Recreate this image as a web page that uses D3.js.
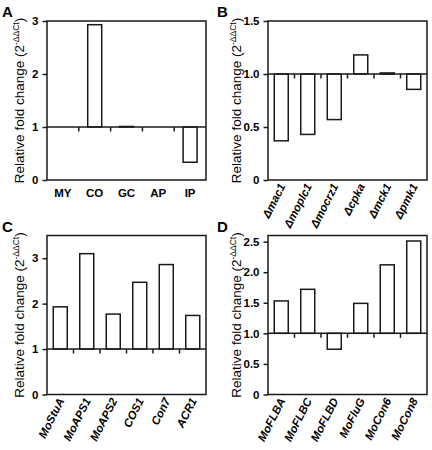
<!DOCTYPE html>
<html>
<head>
<meta charset="utf-8">
<script src="https://cdn.jsdelivr.net/npm/d3@7"></script>
<style>
  html, body { margin: 0; padding: 0; background: #fff; }
  svg { display: block; }
  text { font-family: "Liberation Sans", Arial, sans-serif; fill: #000; }
</style>
</head>
<body>
<svg id="chart" width="432" height="450"></svg>
<script>
// ---- data ----
const catsA = ["MY", "CO", "GC", "AP", "IP"];
const valsA = [1, 2.93, 1.01, 1, 0.335];
const ticksA = [0, 1, 2, 3];
const tickLabelsA = ["0", "1", "2", "3"];

const catsB = ["Δmac1", "Δmoplc1", "Δmocrz1", "Δcpka", "Δmck1", "Δpmk1"];
const valsB = [0.37, 0.43, 0.57, 1.18, 1.01, 0.855];
const ticksB = [0, 0.5, 1.0, 1.5];
const tickLabelsB = ["0", "0.5", "1.0", "1.5"];

const catsC = ["MoStuA", "MoAPS1", "MoAPS2", "COS1", "Con7", "ACR1"];
const valsC = [1.93, 3.10, 1.77, 2.47, 2.86, 1.74];
const ticksC = [0, 1, 2, 3];
const tickLabelsC = ["0", "1", "2", "3"];

const catsD = ["MoFLBA", "MoFLBC", "MoFLBD", "MoFluG", "MoCon6", "MoCon8"];
const valsD = [1.53, 1.72, 0.74, 1.49, 2.12, 2.51];
const ticksD = [0, 0.5, 1.0, 1.5, 2.0, 2.5];
const tickLabelsD = ["0", "0.5", "1.0", "1.5", "2.0", "2.5"];

const panelLetters = ["A", "B", "C", "D"];
const baselineValue = 1;

// ---- drawing ----
const svg = d3.select("#chart");
const stroke = "#1a1a1a";

function panel(cfg) {
  const g = svg.append("g");
  const x = d3.scaleBand().domain(cfg.cats).range([cfg.left, cfg.right]).padding(0);
  const y = d3.scaleLinear().domain(cfg.domain).range([cfg.bottom, cfg.top]);
  const barW = 14;

  // bars
  g.selectAll("rect.bar").data(cfg.cats.map((c, i) => ({c, v: cfg.vals[i]})))
    .enter().append("rect")
    .attr("x", d => x(d.c) + x.bandwidth() / 2 - barW / 2)
    .attr("width", barW)
    .attr("y", d => y(Math.max(d.v, baselineValue)))
    .attr("height", d => Math.abs(y(d.v) - y(baselineValue)))
    .attr("fill", "#fff")
    .attr("stroke", stroke)
    .attr("stroke-width", 1.5)
    .style("display", d => d.v === baselineValue ? "none" : null);

  // frame
  g.append("rect")
    .attr("x", cfg.left).attr("y", cfg.top)
    .attr("width", cfg.right - cfg.left).attr("height", cfg.bottom - cfg.top)
    .attr("fill", "none").attr("stroke", stroke).attr("stroke-width", 1.5);

  // baseline at 1
  g.append("line")
    .attr("x1", cfg.left).attr("x2", cfg.right)
    .attr("y1", y(baselineValue)).attr("y2", y(baselineValue))
    .attr("stroke", stroke).attr("stroke-width", 1.5);

  // ticks between categories on the baseline
  cfg.cats.slice(1).forEach(c => {
    g.append("line")
      .attr("x1", x(c)).attr("x2", x(c))
      .attr("y1", y(baselineValue)).attr("y2", y(baselineValue) + 4.5)
      .attr("stroke", stroke).attr("stroke-width", 1.5);
  });

  // y axis
  const yAxis = d3.axisLeft(y).tickValues(cfg.ticks)
    .tickFormat((d, i) => cfg.tickLabels[i]).tickSize(4.5).tickPadding(4);
  const ax = g.append("g").attr("transform", `translate(${cfg.left},0)`).call(yAxis);
  ax.select(".domain").remove();
  ax.selectAll(".tick line").attr("stroke", stroke).attr("stroke-width", 1.5);
  ax.selectAll(".tick text")
    .attr("font-family", "'Liberation Sans', Arial, sans-serif")
    .attr("font-size", 11.5).attr("font-weight", "bold").attr("fill", "#000");

  // y title
  const cy = (cfg.top + cfg.bottom) / 2;
  const t = g.append("text")
    .attr("transform", `translate(${cfg.titleX},${cy}) rotate(-90)`)
    .attr("text-anchor", "middle")
    .attr("font-size", 13.5);
  t.append("tspan").text("Relative fold change (2");
  t.append("tspan").attr("font-size", 8.5).attr("dy", -5.5).text("-ΔΔCt");
  t.append("tspan").attr("dy", 5.5).text(")");

  // x labels
  if (cfg.rotate) {
    cfg.cats.forEach(c => {
      g.append("text")
        .attr("transform", `translate(${x(c) + x.bandwidth() / 2 + 4.5},${cfg.bottom + 6}) rotate(-63)`)
        .attr("text-anchor", "end")
        .attr("font-size", 11.5).attr("font-weight", "bold").attr("font-style", "italic")
        .text(c);
    });
  } else {
    cfg.cats.forEach(c => {
      g.append("text")
        .attr("x", x(c) + x.bandwidth() / 2).attr("y", cfg.bottom + 16.5)
        .attr("text-anchor", "middle")
        .attr("font-size", 11.5).attr("font-weight", "bold")
        .text(c);
    });
  }

  // panel letter
  g.append("text")
    .attr("x", cfg.letterX).attr("y", cfg.letterY)
    .attr("font-size", 15).attr("font-weight", "bold")
    .text(cfg.letter);
}

panel({cats: catsA, vals: valsA, ticks: ticksA, tickLabels: tickLabelsA, domain: [0, 3],
  left: 47, right: 206, top: 21, bottom: 180, titleX: 24, rotate: false,
  letter: panelLetters[0], letterX: 2, letterY: 16.5});
panel({cats: catsB, vals: valsB, ticks: ticksB, tickLabels: tickLabelsB, domain: [0, 1.5],
  left: 268, right: 427, top: 21, bottom: 180, titleX: 241, rotate: true,
  letter: panelLetters[1], letterX: 217, letterY: 16.5});
panel({cats: catsC, vals: valsC, ticks: ticksC, tickLabels: tickLabelsC, domain: [0, 3.5],
  left: 47, right: 206, top: 235.5, bottom: 394.5, titleX: 24, rotate: true,
  letter: panelLetters[2], letterX: 2, letterY: 232});
panel({cats: catsD, vals: valsD, ticks: ticksD, tickLabels: tickLabelsD, domain: [0, 2.6],
  left: 268, right: 427, top: 235.5, bottom: 394.5, titleX: 241, rotate: true,
  letter: panelLetters[3], letterX: 217, letterY: 232});
</script>
</body>
</html>
